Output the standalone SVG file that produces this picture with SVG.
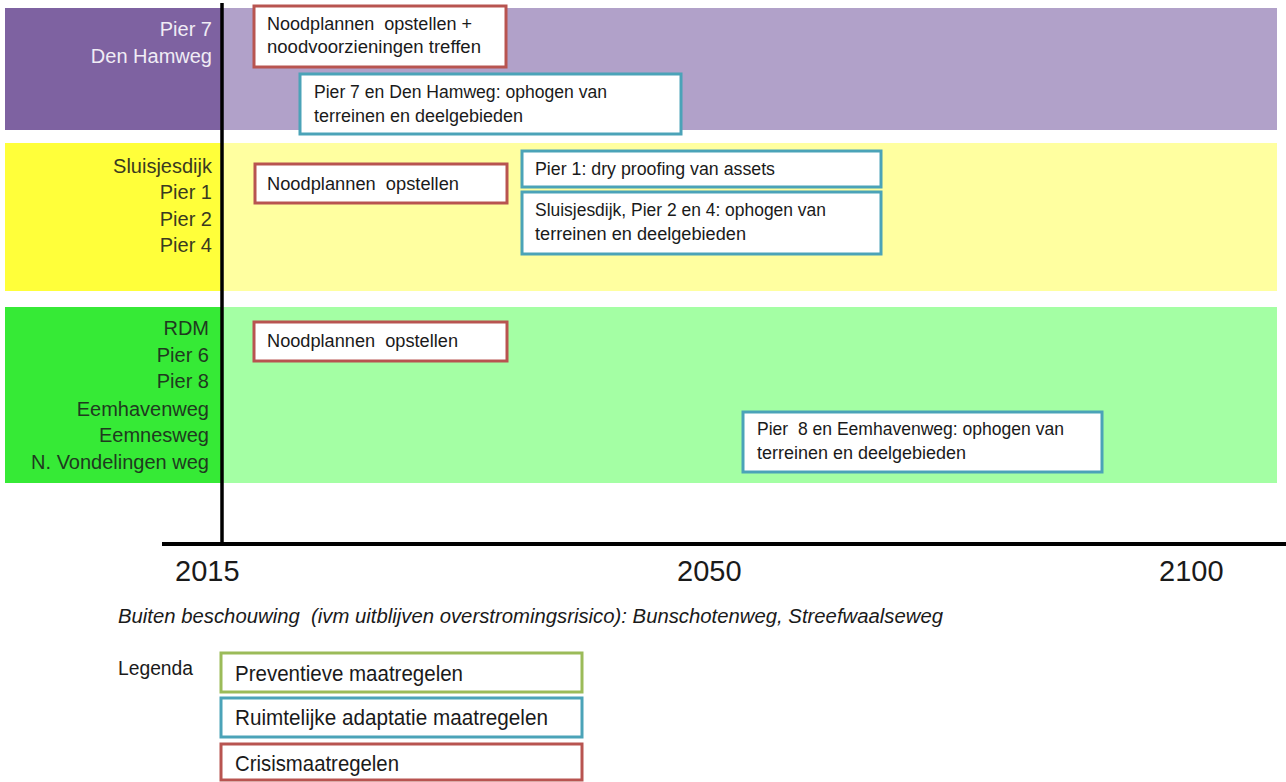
<svg xmlns="http://www.w3.org/2000/svg" width="1286" height="782" viewBox="0 0 1286 782">
<style>
text{font-family:"Liberation Sans",Arial,sans-serif;}
.lbl{font-size:20px;text-anchor:end;}
.bx{font-size:17.5px;fill:#1a1a1a;}
.lg{font-size:22px;fill:#1a1a1a;}
.red{fill:#fff;stroke:#B85450;stroke-width:3;}
.blue{fill:#fff;stroke:#4BA3B8;stroke-width:3;}
.green{fill:#fff;stroke:#9BBB59;stroke-width:3;}
.yr{font-size:29px;fill:#1a1a1a;}
</style>
<rect width="1286" height="782" fill="#fff"/>
<g id="band-purple">
<rect x="5" y="8" width="217" height="122" fill="#7E62A1"/>
<rect x="222" y="8" width="1055" height="122" fill="#B1A1C9"/>
<text class="lbl" x="212" y="36" fill="#f0ecf5">Pier 7</text>
<text class="lbl" x="212" y="63" fill="#f0ecf5">Den Hamweg</text>
</g>
<g id="band-yellow">
<rect x="5" y="143" width="217" height="148" fill="#FFFF3A"/>
<rect x="222" y="143" width="1055" height="148" fill="#FFFFA0"/>
<text class="lbl" x="212" y="173" fill="#3a3a20">Sluisjesdijk</text>
<text class="lbl" x="212" y="199" fill="#3a3a20">Pier 1</text>
<text class="lbl" x="212" y="226" fill="#3a3a20">Pier 2</text>
<text class="lbl" x="212" y="252" fill="#3a3a20">Pier 4</text>
</g>
<g id="band-green">
<rect x="5" y="307" width="217" height="176" fill="#36EA36"/>
<rect x="222" y="307" width="1055" height="176" fill="#A4FFA4"/>
<text class="lbl" x="209" y="335" fill="#1f3a1f">RDM</text>
<text class="lbl" x="209" y="362" fill="#1f3a1f">Pier 6</text>
<text class="lbl" x="209" y="388" fill="#1f3a1f">Pier 8</text>
<text class="lbl" x="209" y="416" fill="#1f3a1f">Eemhavenweg</text>
<text class="lbl" x="209" y="442" fill="#1f3a1f">Eemnesweg</text>
<text class="lbl" x="209" y="469" fill="#1f3a1f">N. Vondelingen weg</text>
</g>
<g id="axes">
<line x1="222" y1="3" x2="222" y2="546" stroke="#000" stroke-width="3.5"/>
<line x1="162" y1="544" x2="1286" y2="544" stroke="#000" stroke-width="4"/>
<text class="yr" x="175" y="581">2015</text>
<text class="yr" x="677" y="581">2050</text>
<text class="yr" x="1159" y="581">2100</text>
</g>
<g id="box1">
<rect class="red" x="254" y="6" width="252" height="61"/>
<text class="bx" x="267" y="30" xml:space="preserve" textLength="205" lengthAdjust="spacingAndGlyphs">Noodplannen  opstellen +</text>
<text class="bx" x="267" y="53" textLength="214" lengthAdjust="spacingAndGlyphs">noodvoorzieningen treffen</text>
</g>
<g id="box2">
<rect class="blue" x="300" y="74" width="381" height="60"/>
<text class="bx" x="314" y="98" textLength="293" lengthAdjust="spacingAndGlyphs">Pier 7 en Den Hamweg: ophogen van</text>
<text class="bx" x="314" y="122" textLength="209" lengthAdjust="spacingAndGlyphs">terreinen en deelgebieden</text>
</g>
<g id="box3">
<rect class="red" x="255" y="164" width="252" height="39"/>
<text class="bx" x="267" y="190" xml:space="preserve" textLength="192" lengthAdjust="spacingAndGlyphs">Noodplannen  opstellen</text>
</g>
<g id="box4">
<rect class="blue" x="522" y="151" width="359" height="36"/>
<text class="bx" x="535" y="175" textLength="240" lengthAdjust="spacingAndGlyphs">Pier 1: dry proofing van assets</text>
</g>
<g id="box5">
<rect class="blue" x="522" y="192" width="359" height="62"/>
<text class="bx" x="535" y="216" textLength="291" lengthAdjust="spacingAndGlyphs">Sluisjesdijk, Pier 2 en 4: ophogen van</text>
<text class="bx" x="535" y="240" textLength="211" lengthAdjust="spacingAndGlyphs">terreinen en deelgebieden</text>
</g>
<g id="box6">
<rect class="red" x="254" y="322" width="253" height="39"/>
<text class="bx" x="267" y="347" xml:space="preserve" textLength="191" lengthAdjust="spacingAndGlyphs">Noodplannen  opstellen</text>
</g>
<g id="box7">
<rect class="blue" x="743" y="412" width="359" height="60"/>
<text class="bx" x="757" y="435" xml:space="preserve" textLength="307" lengthAdjust="spacingAndGlyphs">Pier  8 en Eemhavenweg: ophogen van</text>
<text class="bx" x="757" y="459" textLength="209" lengthAdjust="spacingAndGlyphs">terreinen en deelgebieden</text>
</g>
<text x="118" y="623" font-size="20.5" font-style="italic" fill="#1a1a1a" xml:space="preserve" textLength="825" lengthAdjust="spacingAndGlyphs">Buiten beschouwing  (ivm uitblijven overstromingsrisico): Bunschotenweg, Streefwaalseweg</text>
<g id="legend">
<text x="118" y="675" font-size="19.5" fill="#1a1a1a" textLength="75" lengthAdjust="spacingAndGlyphs">Legenda</text>
<g id="leg-green">
<rect class="green" x="221" y="653" width="361" height="39"/>
<text class="lg" x="235" y="681" textLength="228" lengthAdjust="spacingAndGlyphs">Preventieve maatregelen</text>
</g>
<g id="leg-blue">
<rect class="blue" x="221" y="698" width="361" height="39"/>
<text class="lg" x="235" y="725" textLength="313" lengthAdjust="spacingAndGlyphs">Ruimtelijke adaptatie maatregelen</text>
</g>
<g id="leg-red">
<rect class="red" x="221" y="744" width="361" height="36"/>
<text class="lg" x="235" y="771" textLength="164" lengthAdjust="spacingAndGlyphs">Crisismaatregelen</text>
</g>
</g>
</svg>
